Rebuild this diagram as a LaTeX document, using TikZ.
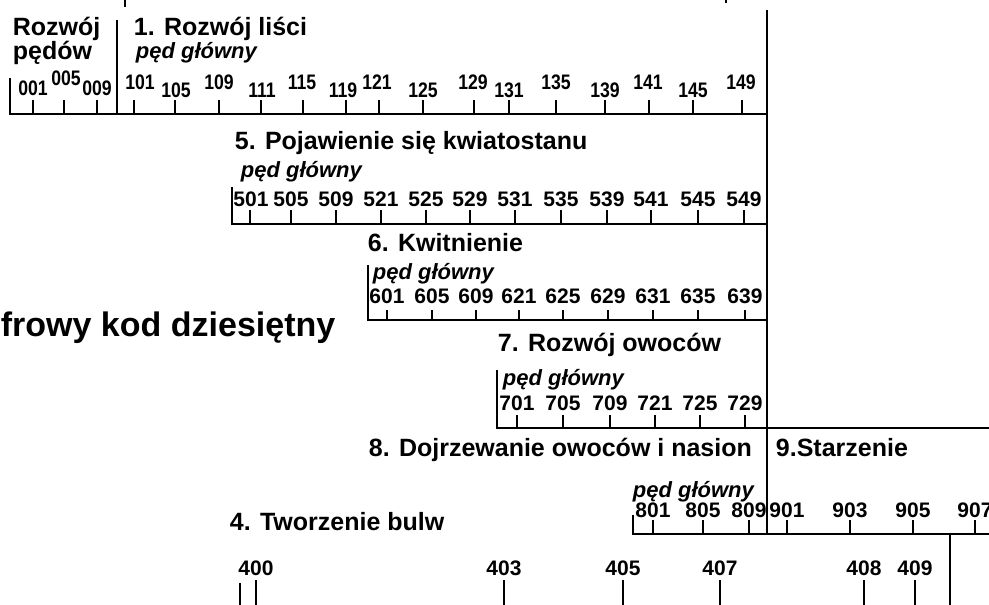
\documentclass[tikz,border=0pt]{standalone}
\usepackage{fontspec}
\usepackage{graphicx}
\setmainfont{Liberation Sans}
\usetikzlibrary{positioning}

\begin{document}
\begin{tikzpicture}[x=1pt, y=-1pt, line width=1.8pt,
    title/.style={font=\bfseries\fontsize{25}{29}\selectfont, anchor=base west, inner sep=0pt},
    shoot/.style={font=\bfseries\itshape\fontsize{22}{26}\selectfont, anchor=base west, inner sep=0pt},
    num/.style={font=\bfseries\fontsize{21}{25}\selectfont, anchor=base, inner sep=0pt},
    tick/.style={line width=1.5pt}]
    \useasboundingbox (0,0) rectangle (989,605);

    % 0-1: rozwoj pedow i lisci
    \node[title] (rozwoj) at (12,35) {Rozwój};
    \node[title] (pedow) at (12,59) {pędów};
    \node[title] (lisci) at (133,35) {1. Rozwój liści};
    \node[shoot] (ped1) at (135,58) {pęd główny};
    \draw (10,78) -- (10,114) -- (767,114);
    \draw (117,20) -- (117,114);
    \draw (125,0) -- (125,7);
    \draw (726,0) -- (726,3);
    \foreach \x/\lx/\t/\b in {33/33/001/95, 64/66/005/85, 97/97/009/95,
        134/140/101/89, 175/176/105/97, 219/219/109/89, 261/262/111/97,
        303/302/115/89, 346/343/119/97, 379/377/121/89, 423/423/125/97,
        474/473/129/89, 509/509/131/97, 556/556/135/89, 605/605/139/97,
        649/648/141/89, 693/693/145/97, 742/741/149/89}{
        \draw[tick] (\x,100) -- (\x,114);
        \node[num] (n\t) at (\lx,\b) {\scalebox{.84}[1]{\t}};
    }

    % 5: kwiatostan
    \node[title] (kwiat) at (234,149) {5. Pojawienie się kwiatostanu};
    \node[shoot] (ped5) at (240,177) {pęd główny};
    \draw (232,187) -- (232,224) -- (767,224);
    \foreach \x/\lx/\t in {250/251/501, 291/291/505, 336/336/509, 381/381/521,
        426/426/525, 470/470/529, 515/515/531, 561/561/535, 607/607/539,
        651/651/541, 698/698/545, 744/744/549}{
        \draw[tick] (\x,210) -- (\x,224);
        \node[num] (n\t) at (\lx,206) {\t};
    }

    % 6: kwitnienie
    \node[title] (kwit) at (367,251) {6. Kwitnienie};
    \node[shoot] (ped6) at (372,279) {pęd główny};
    \draw (368,265) -- (368,320) -- (767,320);
    \foreach \x/\t in {387/601, 432/605, 476/609, 519/621, 563/625,
        608/629, 653/631, 698/635, 745/639}{
        \draw[tick] (\x,310) -- (\x,320);
        \node[num] (n\t) at (\x,303) {\t};
    }

    % 7: owoce
    \node[title] (owoce) at (497,351) {7. Rozwój owoców};
    \node[shoot] (ped7) at (502,385) {pęd główny};
    \draw (497,370) -- (497,428) -- (989,428);
    \foreach \x/\t in {517/701, 563/705, 610/709, 655/721, 700/725, 745/729}{
        \draw[tick] (\x,415) -- (\x,428);
        \node[num] (n\t) at (\x,410) {\t};
    }

    % 8-9: dojrzewanie i starzenie
    \node[title] (dojrz) at (368,456) {8. Dojrzewanie owoców i nasion};
    \node[title] (starz) at (775,456) {9.Starzenie};
    \node[shoot] (ped8) at (632,497) {pęd główny};
    \draw (633,515) -- (633,534) -- (989,534);
    \foreach \x/\t in {653/801, 703/805, 749/809, 787/901, 850/903,
        913/905, 975/907}{
        \draw[tick] (\x,520) -- (\x,534);
        \node[num] (n\t) at (\x,517) {\t};
    }
    \draw (767,10) -- (767,534);

    % 4: bulwy
    \node[title] (bulwy) at (229,530) {4. Tworzenie bulw};
    \node[font=\bfseries\fontsize{34}{38}\selectfont, anchor=base west, inner sep=0pt]
        (kod) at (0,336) {frowy kod dziesiętny};
    \draw[tick] (240,583) -- (240,605);
    \foreach \x/\t in {256/400, 504/403, 623/405, 720/407, 864/408, 915/409}{
        \draw[tick] (\x,580) -- (\x,605);
        \node[num] (n\t) at (\x,575) {\t};
    }
    \draw[line width=2.6pt] (950,534) -- (950,605);
\end{tikzpicture}
\end{document}
